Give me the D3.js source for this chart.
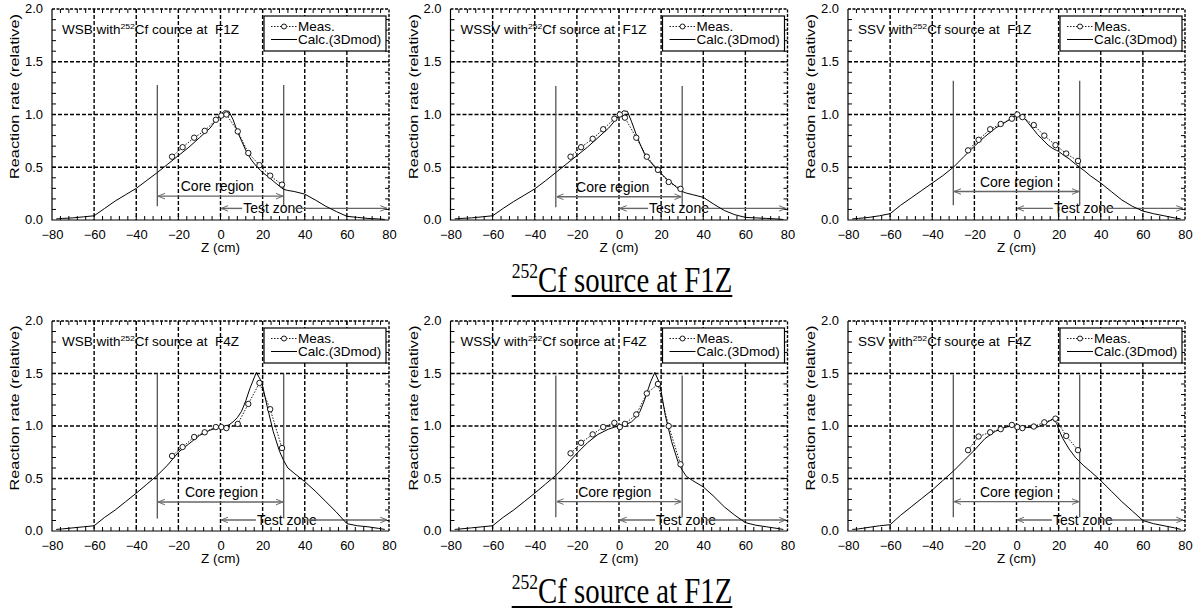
<!DOCTYPE html>
<html>
<head>
<meta charset="utf-8">
<script src="https://cdn.jsdelivr.net/npm/d3@7"></script>
<style>
  body { margin: 0; background: #fff; }
  svg { display: block; }
  text { font-family: "Liberation Sans", Arial, sans-serif; fill: #000; }
</style>
</head>
<body>
<svg></svg>
<script>
// z positions (cm) of the calculated curves and of the measured points
const calcZ = [-78, -75, -70, -65, -60, -55, -50, -45, -40, -35, -30, -25, -20, -15, -10, -5, -2, 0,
  2, 4, 6, 8, 10, 12, 14, 15, 17, 19, 20, 22, 25, 28, 30, 32, 35, 40, 45, 50, 55, 60, 65, 70, 75, 78];
const measZ = [-23, -18, -12.5, -7.5, -2.2, 0.4, 2.8, 8.2, 13.2, 18.5, 23.6, 29.2];

// Calc.(3Dmod)
const wsbF1Calc = [0.01, 0.015, 0.02, 0.03, 0.04, 0.11, 0.18, 0.24, 0.30, 0.375, 0.45, 0.53, 0.61, 0.69, 0.78, 0.87, 0.95, 1.0,
  1.035, 1.03, 0.95, 0.84, 0.75, 0.66, 0.59, 0.56, 0.51, 0.47, 0.45, 0.42, 0.37, 0.32, 0.29, 0.28, 0.27, 0.245, 0.19, 0.13, 0.08, 0.035, 0.025, 0.015, 0.01, 0.005];
const wssvF1Calc = [0.01, 0.015, 0.02, 0.03, 0.04, 0.11, 0.175, 0.235, 0.295, 0.37, 0.45, 0.53, 0.61, 0.69, 0.78, 0.87, 0.94, 0.99,
  1.035, 1.03, 0.93, 0.82, 0.72, 0.63, 0.57, 0.55, 0.50, 0.46, 0.44, 0.40, 0.35, 0.30, 0.27, 0.255, 0.24, 0.215, 0.15, 0.09, 0.05, 0.025, 0.02, 0.015, 0.01, 0.005];
const ssvF1Calc = [0.01, 0.015, 0.025, 0.04, 0.06, 0.14, 0.21, 0.28, 0.35, 0.42, 0.50, 0.60, 0.70, 0.79, 0.87, 0.93, 0.97, 1.0,
  0.99, 0.96, 0.91, 0.86, 0.81, 0.77, 0.73, 0.71, 0.68, 0.66, 0.65, 0.62, 0.58, 0.53, 0.50, 0.47, 0.42, 0.35, 0.27, 0.19, 0.13, 0.085, 0.06, 0.04, 0.02, 0.01];
const wsbF4Calc = [0.015, 0.02, 0.03, 0.04, 0.05, 0.13, 0.20, 0.28, 0.36, 0.445, 0.53, 0.63, 0.75, 0.83, 0.91, 0.96, 0.98, 0.99,
  1.0, 1.01, 1.04, 1.08, 1.14, 1.24, 1.36, 1.41, 1.51, 1.44, 1.38, 1.20, 0.95, 0.76, 0.67, 0.60, 0.55, 0.47, 0.38, 0.28, 0.18, 0.07, 0.05, 0.04, 0.025, 0.015];
const wssvF4Calc = [0.015, 0.02, 0.03, 0.04, 0.05, 0.13, 0.20, 0.28, 0.36, 0.445, 0.53, 0.63, 0.74, 0.84, 0.92, 0.97, 0.99, 1.0,
  1.01, 1.02, 1.04, 1.08, 1.14, 1.24, 1.36, 1.42, 1.51, 1.42, 1.33, 1.10, 0.85, 0.66, 0.58, 0.52, 0.48, 0.42, 0.33, 0.23, 0.15, 0.08, 0.055, 0.04, 0.025, 0.015];
const ssvF4Calc = [0.015, 0.02, 0.035, 0.05, 0.06, 0.15, 0.23, 0.31, 0.39, 0.48, 0.57, 0.67, 0.77, 0.88, 0.95, 0.99, 1.0, 1.0,
  0.995, 0.99, 0.985, 0.985, 0.99, 1.01, 1.03, 1.04, 1.065, 1.03, 0.97, 0.88, 0.78, 0.70, 0.66, 0.62, 0.57, 0.48, 0.38, 0.28, 0.19, 0.10, 0.07, 0.05, 0.03, 0.015];

// Meas.
const wsbF1Meas = [0.60, 0.69, 0.78, 0.845, 0.95, 0.99, 1.0, 0.84, 0.635, 0.52, 0.42, 0.335];
const wssvF1Meas = [0.60, 0.69, 0.77, 0.86, 0.96, 1.0, 0.97, 0.78, 0.60, 0.475, 0.36, 0.295];
const ssvF1Meas = [0.66, 0.76, 0.86, 0.91, 0.96, 1.0, 0.975, 0.90, 0.80, 0.71, 0.63, 0.56];
const wsbF4Meas = [0.715, 0.80, 0.895, 0.94, 0.99, 0.99, 0.98, 1.02, 1.21, 1.41, 1.16, 0.79];
const wssvF4Meas = [0.74, 0.84, 0.92, 0.99, 1.03, 0.99, 1.02, 1.11, 1.31, 1.40, 1.0, 0.635];
const ssvF4Meas = [0.77, 0.90, 0.94, 0.97, 1.01, 0.99, 0.98, 0.995, 1.035, 1.07, 0.905, 0.77];

const detectors = ['WSB', 'WSSV', 'SSV', 'WSB', 'WSSV', 'SSV'];
const sourcePos = ['F1Z', 'F1Z', 'F1Z', 'F4Z', 'F4Z', 'F4Z'];
const sourceWord = ['cource', 'source', 'source', 'source', 'source', 'source'];
const xTicks = [-80, -60, -40, -20, 0, 20, 40, 60, 80];
const yTicks = [0, 0.5, 1.0, 1.5, 2.0];
const captions = ['F1Z', 'F1Z'];

const calcs = [wsbF1Calc, wssvF1Calc, ssvF1Calc, wsbF4Calc, wssvF4Calc, ssvF4Calc];
const meass = [wsbF1Meas, wssvF1Meas, ssvF1Meas, wsbF4Meas, wssvF4Meas, ssvF4Meas];

// annotation placement (data units): core-region lines / arrows, test zone arrow
const notes = [
  { vLo: 0.13, vHi: 1.28, core: 0.226, coreX: -1.5, test: 0.11, testX: 25 },
  { vLo: 0.12, vHi: 1.27, core: 0.22, coreX: -3, test: 0.11, testX: 28.5 },
  { vLo: 0.14, vHi: 1.32, core: 0.27, coreX: 0, test: 0.11, testX: 32 },
  { vLo: 0.12, vHi: 1.50, core: 0.276, coreX: 0.5, test: 0.105, testX: 31.5 },
  { vLo: 0.13, vHi: 1.48, core: 0.28, coreX: -2, test: 0.105, testX: 31.8 },
  { vLo: 0.13, vHi: 1.49, core: 0.28, coreX: 0, test: 0.105, testX: 31.5 }
];

const width = 1195, height = 612;
const colX = [52, 450.5, 848];
const rowY = [9, 321];
const rowH = [211, 210];
const pw = 337;
const sx = 1.08; // horizontal stretch of the panel lettering

const svg = d3.select('svg').attr('width', width).attr('height', height);

svg.append('defs').append('marker')
  .attr('id', 'arr')
  .attr('viewBox', '0 0 10 10')
  .attr('refX', 9.5).attr('refY', 5)
  .attr('markerWidth', 7).attr('markerHeight', 7)
  .attr('markerUnits', 'userSpaceOnUse')
  .attr('orient', 'auto-start-reverse')
  .append('path')
  .attr('d', 'M0,1 L10,5 L0,9')
  .attr('fill', 'none').attr('stroke', '#666').attr('stroke-width', 1.4);

function drawPanel(i) {
  const col = i % 3, row = Math.floor(i / 3);
  const h = rowH[row];
  const g = svg.append('g').attr('transform', `translate(${colX[col]},${rowY[row]})`);
  const x = d3.scaleLinear().domain([-80, 80]).range([0, pw]);
  const y = d3.scaleLinear().domain([0, 2]).range([h, 0]);
  const n = notes[i];

  // grid
  g.append('g').selectAll('line').data(xTicks.slice(1, -1)).join('line')
    .attr('x1', d => x(d)).attr('x2', d => x(d)).attr('y1', 0).attr('y2', h)
    .attr('stroke', '#000').attr('stroke-width', 1.4).attr('stroke-dasharray', '4,2');
  g.append('g').selectAll('line').data(yTicks.slice(1, -1)).join('line')
    .attr('y1', d => y(d)).attr('y2', d => y(d)).attr('x1', 0).attr('x2', pw)
    .attr('stroke', '#000').attr('stroke-width', 1.6).attr('stroke-dasharray', '4,2');

  // minor ticks
  const xMinor = d3.range(-76, 80, 4);
  const yMinor = d3.range(1, 20).map(k => k / 10);
  const tk = g.append('g').attr('stroke', '#000').attr('stroke-width', 1);
  tk.selectAll('.xb').data(xMinor).join('line').attr('class', 'xb')
    .attr('x1', d => x(d)).attr('x2', d => x(d)).attr('y1', h).attr('y2', h - 4);
  tk.selectAll('.xt').data(xMinor).join('line').attr('class', 'xt')
    .attr('x1', d => x(d)).attr('x2', d => x(d)).attr('y1', 0).attr('y2', 4);
  tk.selectAll('.yl').data(yMinor).join('line').attr('class', 'yl')
    .attr('y1', d => y(d)).attr('y2', d => y(d)).attr('x1', 0).attr('x2', 4);
  tk.selectAll('.yr').data(yMinor).join('line').attr('class', 'yr')
    .attr('y1', d => y(d)).attr('y2', d => y(d)).attr('x1', pw).attr('x2', pw - 4);

  // frame
  g.append('path').attr('d', `M0,0 V${h} H${pw}`)
    .attr('fill', 'none').attr('stroke', '#000').attr('stroke-width', 1.2);
  g.append('path').attr('d', `M0,0 H${pw} V${h}`)
    .attr('fill', 'none').attr('stroke', '#000').attr('stroke-width', 1.4).attr('stroke-dasharray', '3,1.5');

  // axes
  g.append('g').attr('transform', `translate(0,${h})`)
    .call(d3.axisBottom(x).tickValues(xTicks).tickSize(0).tickPadding(10.5))
    .call(a => a.select('.domain').remove())
    .attr('font-size', 12).attr('font-family', null)
    .selectAll('text').attr('transform', `scale(${sx},1)`);
  g.append('g')
    .call(d3.axisLeft(y).tickValues(yTicks).tickFormat(d3.format('.1f')).tickSize(0).tickPadding(0))
    .call(a => a.select('.domain').remove())
    .attr('font-size', 12).attr('font-family', null)
    .selectAll('text').attr('x', -9 / sx).attr('transform', `scale(${sx},1)`);

  g.append('text')
    .attr('transform', `translate(${pw / 2},${h + 32}) scale(${sx},1)`)
    .attr('text-anchor', 'middle').attr('font-size', 12.5)
    .text('Z (cm)');
  g.append('text')
    .attr('transform', `translate(-33,${h / 2 - 18}) rotate(-90)`)
    .attr('text-anchor', 'middle').attr('font-size', 12.5)
    .attr('textLength', 165).attr('lengthAdjust', 'spacingAndGlyphs')
    .text('Reaction rate (relative)');

  // core region / test zone annotations
  const ann = g.append('g');
  [-30, 30].forEach(v => {
    ann.append('line').attr('x1', x(v)).attr('x2', x(v)).attr('y1', y(n.vHi)).attr('y2', y(n.vLo))
      .attr('stroke', '#555').attr('stroke-width', 1.3);
  });
  ann.append('line').attr('x1', x(-29.5)).attr('x2', x(29.5)).attr('y1', y(n.core)).attr('y2', y(n.core))
    .attr('stroke', '#666').attr('stroke-width', 1.4)
    .attr('marker-start', 'url(#arr)').attr('marker-end', 'url(#arr)');
  ann.append('text').attr('x', x(n.coreX)).attr('y', y(n.core) - 5)
    .attr('text-anchor', 'middle').attr('font-size', 14).text('Core region');
  const tz = ann.append('text').attr('x', x(n.testX)).attr('y', y(n.test) + 5)
    .attr('text-anchor', 'middle').attr('font-size', 14).text('Test zone');
  const tw = tz.node().getComputedTextLength();
  ann.append('line').attr('x1', x(0.5)).attr('x2', x(n.testX) - tw / 2 - 1).attr('y1', y(n.test)).attr('y2', y(n.test))
    .attr('stroke', '#666').attr('stroke-width', 1.4).attr('marker-start', 'url(#arr)');
  ann.append('line').attr('x1', x(n.testX) + tw / 2 - 10).attr('x2', x(79)).attr('y1', y(n.test)).attr('y2', y(n.test))
    .attr('stroke', '#666').attr('stroke-width', 1.4).attr('marker-end', 'url(#arr)');

  // curves
  const line = d3.line().x(d => x(d[0])).y(d => y(d[1]));
  g.append('path').datum(d3.zip(calcZ, calcs[i])).attr('d', line)
    .attr('fill', 'none').attr('stroke', '#000').attr('stroke-width', 1);
  const meas = d3.zip(measZ, meass[i]);
  g.append('path').datum(meas).attr('d', line)
    .attr('fill', 'none').attr('stroke', '#000').attr('stroke-width', 0.9).attr('stroke-dasharray', '1.5,1.5');
  g.append('g').selectAll('circle').data(meas).join('circle')
    .attr('cx', d => x(d[0])).attr('cy', d => y(d[1])).attr('r', 2.7)
    .attr('fill', '#fff').attr('stroke', '#000').attr('stroke-width', 0.9);

  // title
  const t = g.append('text').attr('transform', `translate(10,25) scale(${sx},1)`)
    .attr('font-size', 12.5).style('white-space', 'pre');
  t.append('tspan').text(`${detectors[i]} with`);
  t.append('tspan').attr('font-size', 8).attr('dy', -5).text('252');
  t.append('tspan').attr('dy', 5).text(`Cf ${sourceWord[i]} at  ${sourcePos[i]}`);

  // legend
  const lg = g.append('g').attr('transform', `translate(212,7)`);
  lg.append('rect').attr('width', 122).attr('height', 35)
    .attr('fill', '#fff').attr('stroke', '#000').attr('stroke-width', 1.2);
  lg.append('line').attr('x1', 7).attr('x2', 33).attr('y1', 10.5).attr('y2', 10.5)
    .attr('stroke', '#000').attr('stroke-width', 0.9).attr('stroke-dasharray', '1.5,1.5');
  lg.append('circle').attr('cx', 20).attr('cy', 10.5).attr('r', 2.5)
    .attr('fill', '#fff').attr('stroke', '#000').attr('stroke-width', 0.9);
  lg.append('line').attr('x1', 7).attr('x2', 33).attr('y1', 23.5).attr('y2', 23.5)
    .attr('stroke', '#000').attr('stroke-width', 1);
  lg.append('text').attr('transform', `translate(34,15) scale(${sx},1)`).attr('font-size', 12.5).text('Meas.');
  lg.append('text').attr('transform', `translate(34,28) scale(${sx},1)`).attr('font-size', 12.5).text('Calc.(3Dmod)');
}

d3.range(6).forEach(drawPanel);

// row captions
const capY = [292, 603];
captions.forEach((c, r) => {
  const cg = svg.append('g').attr('transform', `translate(622,${capY[r]}) scale(0.8,1)`);
  const ct = cg.append('text').attr('text-anchor', 'middle')
    .style('font-family', '"Liberation Serif", "Times New Roman", serif');
  ct.append('tspan').attr('font-size', 22).attr('dy', -14).text('252');
  ct.append('tspan').attr('font-size', 36).attr('dy', 14).text(`Cf source at ${c}`);
  const w = ct.node().getComputedTextLength();
  cg.append('line').attr('x1', -w / 2).attr('x2', w / 2).attr('y1', 4).attr('y2', 4)
    .attr('stroke', '#000').attr('stroke-width', 1.8);
});
</script>
</body>
</html>
